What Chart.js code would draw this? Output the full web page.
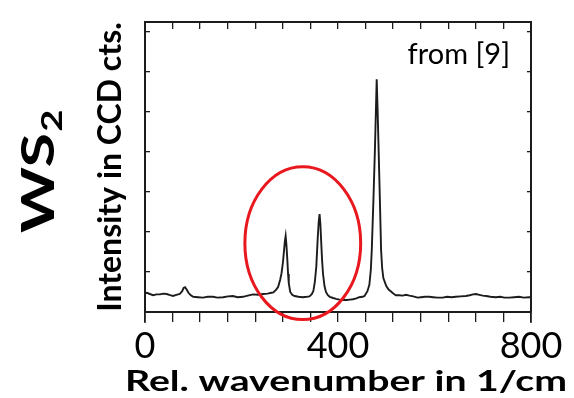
<!DOCTYPE html>
<html>
<head>
<meta charset="utf-8">
<script src="https://cdn.jsdelivr.net/npm/chart.js@4.4.0/dist/chart.umd.min.js"></script>
<style>
  html, body { margin: 0; background: #fff; }
  #wrap { width: 574px; height: 398px; }
</style>
</head>
<body>
<div id="wrap"><canvas id="c" width="574" height="398"></canvas></div>
<script>
// WS2 Raman spectrum (x in 1/cm, y in tick units)
const wavenumber = [
  0, 4, 10, 17, 24, 31, 38, 45, 52, 58, 65, 72, 77, 80, 83, 86, 90, 95, 100,
  110, 120, 130, 141, 150, 162, 172, 182, 192, 203, 213, 224, 234, 245, 254,
  262, 266, 272, 276, 280, 283, 286, 288, 290, 291.5, 293, 295, 296.5, 298,
  301, 305, 310, 318, 327, 335, 341, 346, 349, 352, 355, 358, 360, 361.8,
  363.5, 365, 367, 369, 372, 375, 379, 383, 390, 396, 403, 410, 418, 425,
  431, 438, 444, 451, 455, 461, 465, 468, 470, 473.4, 476.5, 478.6, 480.2,
  482.1, 484.2, 486.8, 489.3, 491.5, 494, 500, 505, 511, 516, 520, 527, 534,
  541, 548, 556, 565, 572, 580, 589, 597, 606, 617, 626, 635, 644, 654, 665,
  673, 680, 686, 693, 700, 707, 716, 727, 736, 745, 755, 765, 775, 785, 796, 800
];
const intensity = [
  0.47, 0.48, 0.45, 0.42, 0.44, 0.44, 0.46, 0.45, 0.42, 0.40, 0.43, 0.45, 0.52, 0.60, 0.62, 0.57, 0.48, 0.42, 0.38,
  0.37, 0.36, 0.38, 0.38, 0.36, 0.37, 0.39, 0.40, 0.37, 0.38, 0.41, 0.44, 0.43, 0.45, 0.46,
  0.48, 0.49, 0.56, 0.63, 0.80, 0.97, 1.25, 1.52, 1.78, 1.90, 1.70, 1.30, 0.95, 0.72,
  0.50, 0.43, 0.40, 0.38, 0.37, 0.38, 0.39, 0.45, 0.53, 0.75, 1.13, 1.85, 2.25, 2.45,
  2.20, 1.80, 1.30, 0.95, 0.65, 0.50, 0.42, 0.38, 0.35, 0.33, 0.31, 0.30, 0.30, 0.31,
  0.32, 0.34, 0.37, 0.38, 0.40, 0.52, 0.68, 1.05, 1.55, 2.80, 4.05, 5.05, 5.82,
  5.05, 4.05, 2.80, 1.55, 1.10, 0.85, 0.65, 0.56, 0.50, 0.45, 0.42, 0.42, 0.41,
  0.43, 0.41, 0.39, 0.36, 0.37, 0.38, 0.38, 0.37, 0.36, 0.36, 0.38, 0.37, 0.38, 0.39, 0.40,
  0.42, 0.44, 0.45, 0.43, 0.41, 0.40, 0.38, 0.37, 0.38, 0.36, 0.36, 0.37, 0.38, 0.36, 0.37, 0.37
];

const xMax = 800;
const xTickCount = 14;            // tick marks along the x frame
const xLabelValues = [0, 400, 800];
const yMax = 7.25;
const yTickValues = [0, 1, 2, 3, 4, 5, 6, 7];

// red ring around the two WS2 modes (data units)
const ring = { x: 327, y: 1.72, rx: 120, ry: 1.91 };

const xTickValues = [];
for (let i = 0; i <= xTickCount; i++) xTickValues.push((i * xMax) / xTickCount);

const ink = "#1c1c1c";
const fontFamily = "Lato, 'Open Sans', sans-serif";

const setXTicks = (s) => { s.ticks = xTickValues.map((v) => ({ value: v })); };
const setYTicks = (s) => { s.ticks = yTickValues.map((v) => ({ value: v })); };

const frameBorder = { display: true, color: ink, width: 2 };

const annotations = {
  id: "annotations",
  afterDraw(chart) {
    const { ctx, scales, chartArea } = chart;
    const xs = scales.x, ys = scales.y;

    // side frame lines run a little past the bottom axis
    ctx.save();
    ctx.strokeStyle = ink;
    ctx.lineWidth = 1.5;
    ctx.beginPath();
    ctx.moveTo(chartArea.left, chartArea.bottom);
    ctx.lineTo(chartArea.left, chartArea.bottom + 11);
    ctx.moveTo(chartArea.right, chartArea.bottom);
    ctx.lineTo(chartArea.right, chartArea.bottom + 11);
    ctx.stroke();
    ctx.restore();

    // red ellipse
    const cx = xs.getPixelForValue(ring.x);
    const cy = ys.getPixelForValue(ring.y);
    const rx = xs.getPixelForValue(ring.x + ring.rx) - cx;
    const ry = cy - ys.getPixelForValue(ring.y + ring.ry);
    ctx.save();
    ctx.beginPath();
    ctx.ellipse(cx, cy, rx, ry, 0, 0, Math.PI * 2);
    ctx.strokeStyle = "#e8181e";
    ctx.lineWidth = 3;
    ctx.stroke();
    ctx.restore();

    // source note
    ctx.save();
    ctx.fillStyle = "#000";
    ctx.font = "29px " + fontFamily;
    ctx.textAlign = "right";
    ctx.textBaseline = "alphabetic";
    ctx.fillText("from [9]", chartArea.right - 21, chartArea.top + 42);
    ctx.restore();

    // x axis title (stretched like the source)
    ctx.save();
    ctx.fillStyle = "#000";
    ctx.font = "bold 29px " + fontFamily;
    const xt = "Rel. wavenumber in 1/cm";
    const w = ctx.measureText(xt).width;
    ctx.translate(346, 391);
    ctx.scale(442 / w, 1);
    ctx.textAlign = "center";
    ctx.textBaseline = "alphabetic";
    ctx.fillText(xt, 0, 0);
    ctx.restore();

    // WS2 label
    ctx.save();
    ctx.fillStyle = "#000";
    ctx.translate(54, 233);
    ctx.rotate(-Math.PI / 2);
    ctx.font = "bold 46px " + fontFamily;
    const ws = ctx.measureText("WS").width;
    ctx.scale(100 / ws, 1);
    ctx.textAlign = "left";
    ctx.textBaseline = "alphabetic";
    ctx.fillText("WS", 0, 0);
    ctx.font = "bold 28px " + fontFamily;
    ctx.fillText("2", ws + 1, 8);
    ctx.restore();
  }
};

new Chart(document.getElementById("c"), {
  type: "line",
  data: {
    datasets: [{
      data: wavenumber.map((x, i) => ({ x, y: intensity[i] })),
      borderColor: ink,
      borderWidth: 1.9,
      pointRadius: 0,
      tension: 0,
      fill: false
    }]
  },
  options: {
    responsive: false,
    animation: false,
    layout: { padding: 0 },
    plugins: { legend: { display: false }, tooltip: { enabled: false } },
    scales: {
      x: {
        type: "linear", position: "bottom", min: 0, max: xMax,
        afterBuildTicks: setXTicks,
        afterFit: (s) => { s.height = 86; },
        ticks: {
          autoSkip: false, maxRotation: 0, padding: 3, color: "#000",
          font: { family: fontFamily, size: 36 },
          callback: (v) => (xLabelValues.some((l) => Math.abs(l - v) < 1e-6) ? String(Math.round(v)) : "")
        },
        grid: { drawOnChartArea: false, tickLength: 10, color: ink, lineWidth: 1.3 },
        border: frameBorder
      },
      xTop: {
        type: "linear", position: "top", min: 0, max: xMax,
        afterBuildTicks: setXTicks,
        afterFit: (s) => { s.height = 22; },
        ticks: { display: false },
        grid: { drawOnChartArea: false, tickLength: -7, color: ink, lineWidth: 1.3 },
        border: frameBorder
      },
      y: {
        type: "linear", position: "left", min: 0, max: yMax,
        afterBuildTicks: setYTicks,
        afterFit: (s) => { s.width = 145; },
        ticks: { display: false },
        grid: { drawOnChartArea: false, tickLength: -5, color: ink, lineWidth: 1.3 },
        border: frameBorder,
        title: {
          display: true,
          text: "Intensity in CCD cts.",
          color: "#000",
          font: { family: fontFamily, size: 32, weight: "bold" },
          padding: { top: 91, bottom: 0 }
        }
      },
      yRight: {
        type: "linear", position: "right", min: 0, max: yMax,
        afterBuildTicks: setYTicks,
        afterFit: (s) => { s.width = 43; },
        ticks: { display: false },
        grid: { drawOnChartArea: false, tickLength: -4, color: ink, lineWidth: 1.3 },
        border: frameBorder
      }
    }
  },
  plugins: [annotations]
});
</script>
</body>
</html>
